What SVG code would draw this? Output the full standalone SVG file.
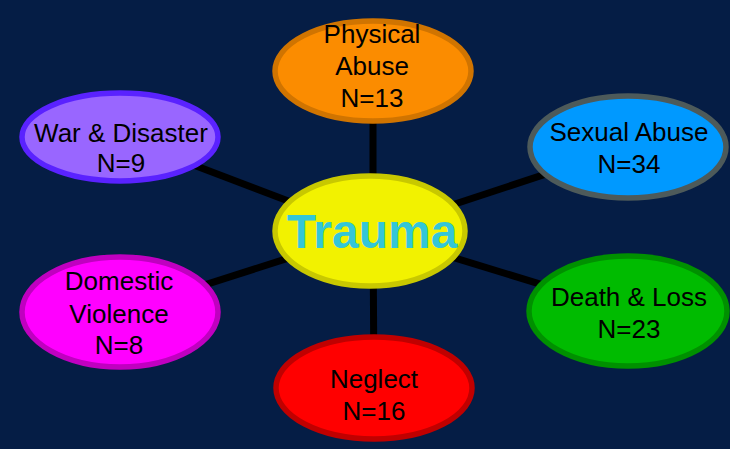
<svg xmlns="http://www.w3.org/2000/svg" width="730" height="449" viewBox="0 0 730 449">
<style>
.lbl{font-family:"Liberation Sans",Arial,sans-serif;font-size:26px;fill:#000;text-anchor:middle}
.node ellipse{stroke-width:5.5}
</style>
<rect width="730" height="449" fill="#051d45"/>
<g id="connectors" stroke="#000" stroke-width="7">
<line x1="373" y1="232" x2="373" y2="71"/>
<line x1="373" y1="232" x2="374" y2="388"/>
<line x1="370" y1="232" x2="120" y2="137"/>
<line x1="370" y1="232" x2="628" y2="147"/>
<line x1="370" y1="232" x2="120" y2="312"/>
<line x1="370" y1="232" x2="628" y2="311"/>
</g>
<g id="physical" class="node">
<ellipse cx="373" cy="71" rx="98" ry="50" fill="#fb8c00" stroke="#d07400"/>
<text class="lbl" x="372" y="43">Physical</text>
<text class="lbl" x="372" y="75">Abuse</text>
<text class="lbl" x="372" y="107">N=13</text>
</g>
<g id="sexual" class="node">
<ellipse cx="628" cy="147" rx="98" ry="51" fill="#0099ff" stroke="#4d5a5a"/>
<text class="lbl" x="629" y="141">Sexual Abuse</text>
<text class="lbl" x="629" y="173">N=34</text>
</g>
<g id="war" class="node">
<ellipse cx="120" cy="137" rx="98" ry="44" fill="#9966ff" stroke="#5a22ff"/>
<text class="lbl" x="121" y="142">War &amp; Disaster</text>
<text class="lbl" x="121" y="172">N=9</text>
</g>
<g id="domestic" class="node">
<ellipse cx="120" cy="312" rx="98" ry="55" fill="#ff00ff" stroke="#c000c0"/>
<text class="lbl" x="119" y="290">Domestic</text>
<text class="lbl" x="119" y="323">Violence</text>
<text class="lbl" x="119" y="354">N=8</text>
</g>
<g id="death" class="node">
<ellipse cx="628" cy="311" rx="99" ry="55" fill="#00bb00" stroke="#009000"/>
<text class="lbl" x="629" y="306">Death &amp; Loss</text>
<text class="lbl" x="629" y="338">N=23</text>
</g>
<g id="neglect" class="node">
<ellipse cx="374" cy="388" rx="98" ry="51" fill="#ff0000" stroke="#c00000"/>
<text class="lbl" x="374" y="388">Neglect</text>
<text class="lbl" x="374" y="420">N=16</text>
</g>
<g id="trauma" class="node">
<ellipse cx="370" cy="231" rx="95" ry="55" fill="#f2f200" stroke="#c8c800"/>
<text x="372" y="248" style="font-family:'Liberation Sans',Arial,sans-serif;font-size:48px;font-weight:bold;fill:#33c6d8;text-anchor:middle">Trauma</text>
</g>
</svg>
